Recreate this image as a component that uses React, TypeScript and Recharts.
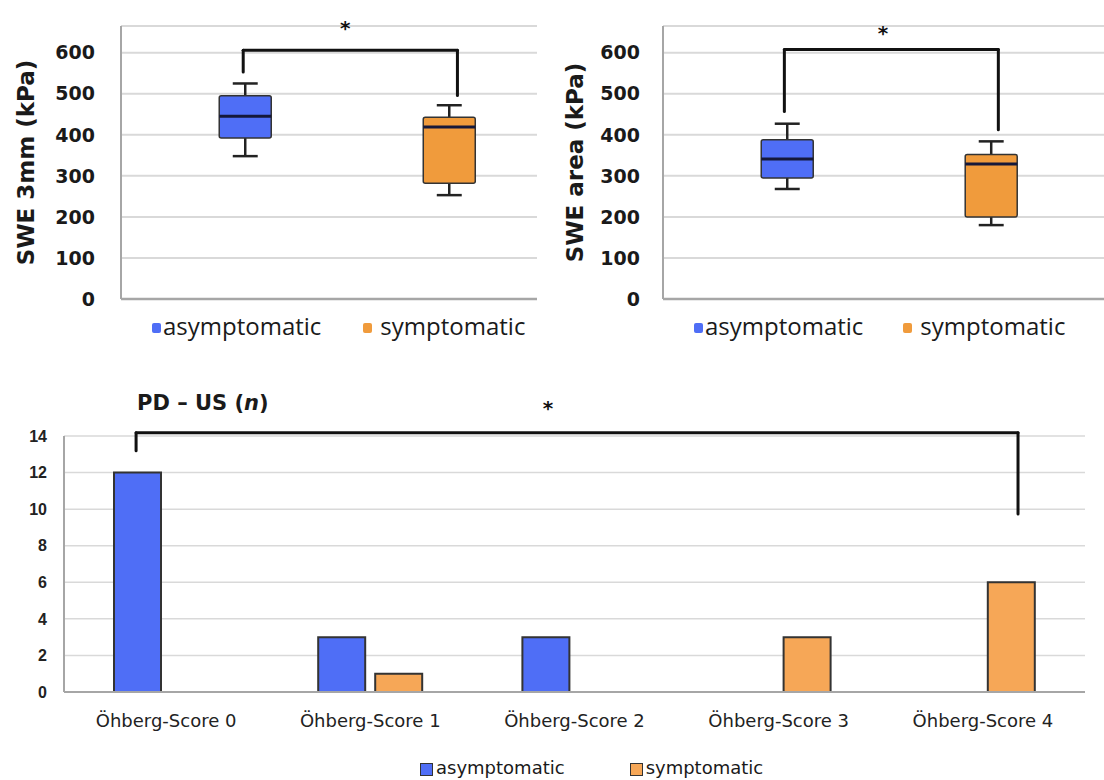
import React from 'react';
import {
  ComposedChart,
  BarChart,
  Bar,
  Cell,
  XAxis,
  YAxis,
  CartesianGrid,
  ReferenceLine,
  ReferenceDot,
} from 'recharts';

// groups of the two box plots
const GROUPS = ['asymptomatic', 'symptomatic'];
const GROUP_POS = [1, 2];
const SWE_TICKS = [0, 100, 200, 300, 400, 500, 600];

// SWE 3mm (kPa)
const SWE3_MIN = [348, 253];
const SWE3_Q1 = [392, 282];
const SWE3_MEDIAN = [445, 419];
const SWE3_Q3 = [495, 443];
const SWE3_MAX = [525, 472];

// SWE area (kPa)
const SWEA_MIN = [268, 180];
const SWEA_Q1 = [295, 200];
const SWEA_MEDIAN = [341, 329];
const SWEA_Q3 = [388, 352];
const SWEA_MAX = [427, 384];

// PD - US counts
const SCORE_LABELS = [
  'Öhberg-Score 0',
  'Öhberg-Score 1',
  'Öhberg-Score 2',
  'Öhberg-Score 3',
  'Öhberg-Score 4',
];
const PD_ASYMPTOMATIC = [12, 3, 3, 0, 0];
const PD_SYMPTOMATIC = [0, 1, 0, 3, 6];
const PD_TICKS = [0, 2, 4, 6, 8, 10, 12, 14];

// significance brackets (data units): x = [left, right], y = [left end, top, right end]
const SWE3_BRACKET_X = [0.99, 2.04];
const SWE3_BRACKET_Y = [553, 606, 496];
const SWE3_STAR = [1.49, 671];
const SWEA_BRACKET_X = [0.986, 2.035];
const SWEA_BRACKET_Y = [457, 608, 412];
const SWEA_STAR = [1.47, 658];
const PD_BRACKET_X = [0.353, 4.672];
const PD_BRACKET_Y = [13.2, 14.18, 9.73];
const PD_STAR = [2.37, 15.75];

const BLUE = '#4F6EF6';
const ORANGE = '#F09B3C';
const ORANGE_LIGHT = '#F6A757';
const GRID = '#d9d9d9';
const AXIS = '#a6a6a6';

const makeBoxData = (
  mins: number[],
  q1s: number[],
  meds: number[],
  q3s: number[],
  maxs: number[]
) =>
  GROUPS.map((g, i) => ({
    group: g,
    pos: GROUP_POS[i],
    min: mins[i],
    q1: q1s[i],
    median: meds[i],
    q3: q3s[i],
    max: maxs[i],
  }));

const swe3Data = makeBoxData(SWE3_MIN, SWE3_Q1, SWE3_MEDIAN, SWE3_Q3, SWE3_MAX);
const sweAreaData = makeBoxData(SWEA_MIN, SWEA_Q1, SWEA_MEDIAN, SWEA_Q3, SWEA_MAX);

// slot = band centre on the hidden 0..5 annotation axis
const pdData = SCORE_LABELS.map((s, i) => ({
  score: s,
  slot: i + 0.5,
  asymptomatic: PD_ASYMPTOMATIC[i],
  symptomatic: PD_SYMPTOMATIC[i],
}));

// the bar spans q1..q3, whiskers and median are placed with the same px/unit
const BoxShape = (props: any) => {
  const { x, y, width, height, payload, fill } = props;
  const top = Math.min(y, y + height);
  const h = Math.abs(height);
  const ppu = h / (payload.q3 - payload.q1);
  const cx = x + width / 2;
  const bottom = top + h;
  const yMed = top + (payload.q3 - payload.median) * ppu;
  const yMax = top - (payload.max - payload.q3) * ppu;
  const yMin = bottom + (payload.q1 - payload.min) * ppu;
  const cap = width * 0.24;
  return (
    <g>
      <line x1={cx} x2={cx} y1={yMax} y2={top} stroke="#222" strokeWidth={2.5} />
      <line x1={cx} x2={cx} y1={bottom} y2={yMin} stroke="#222" strokeWidth={2.5} />
      <line x1={cx - cap} x2={cx + cap} y1={yMax} y2={yMax} stroke="#222" strokeWidth={2.5} />
      <line x1={cx - cap} x2={cx + cap} y1={yMin} y2={yMin} stroke="#222" strokeWidth={2.5} />
      <rect x={x} y={top} width={width} height={h} fill={fill} stroke="#333" strokeWidth={1.5} rx={2} />
      <line x1={x} x2={x + width} y1={yMed} y2={yMed} stroke="#15183a" strokeWidth={3} />
    </g>
  );
};

const Star = (props: any) => (
  <text
    x={props.cx}
    y={props.cy}
    dy="0.55em"
    textAnchor="middle"
    fontSize={20}
    fontWeight="bold"
    fontFamily="DejaVu Sans"
    fill="#111"
  >
    *
  </text>
);

const bracketLines = (bx: number[], by: number[], xAxisId?: string) => {
  const segs = [
    [{ x: bx[0], y: by[0] }, { x: bx[0], y: by[1] }],
    [{ x: bx[0], y: by[1] }, { x: bx[1], y: by[1] }],
    [{ x: bx[1], y: by[1] }, { x: bx[1], y: by[2] }],
  ];
  return segs.map((seg, i) => (
    <ReferenceLine
      key={`br-${i}`}
      segment={seg}
      xAxisId={xAxisId}
      stroke="#111"
      strokeWidth={3}
      strokeLinecap="round"
      ifOverflow="visible"
    />
  ));
};

interface BoxPanelProps {
  data: any[];
  title: string;
  width: number;
  right: number;
  labelOffset: number;
  tickMargin: number;
  xDomain: number[];
  bracketX: number[];
  bracketY: number[];
  star: number[];
}

const BoxPanel = ({
  data,
  title,
  width,
  right,
  labelOffset,
  tickMargin,
  xDomain,
  bracketX,
  bracketY,
  star,
}: BoxPanelProps) => (
  <ComposedChart
    width={width}
    height={310}
    data={data}
    margin={{ top: 26, right, bottom: 11, left: 0 }}
  >
    <CartesianGrid vertical={false} stroke={GRID} strokeWidth={2} />
    <XAxis dataKey="pos" type="number" domain={xDomain} allowDataOverflow hide />
    <YAxis
      width={121}
      domain={[0, 665]}
      ticks={SWE_TICKS}
      interval={0}
      axisLine={{ stroke: AXIS, strokeWidth: 2 }}
      tickLine={false}
      tickMargin={tickMargin}
      tick={{ fontSize: 19, fontWeight: 'bold', fontFamily: 'DejaVu Sans', fill: '#1a1a1a' }}
      label={{
        value: title,
        angle: -90,
        position: 'insideLeft',
        offset: labelOffset,
        style: {
          textAnchor: 'middle',
          fontSize: 23,
          fontWeight: 'bold',
          fontFamily: 'DejaVu Sans',
          fill: '#1a1a1a',
        },
      }}
    />
    <ReferenceLine y={0} stroke={AXIS} strokeWidth={2.5} />
    <Bar
      dataKey={(d: any) => [d.q1, d.q3]}
      barSize={52}
      shape={BoxShape}
      isAnimationActive={false}
    >
      {data.map((d, i) => (
        <Cell key={`c-${i}`} fill={i === 0 ? BLUE : ORANGE} />
      ))}
    </Bar>
    {bracketLines(bracketX, bracketY)}
    <ReferenceDot x={star[0]} y={star[1]} r={0} ifOverflow="visible" shape={Star} />
  </ComposedChart>
);

const TopLegend = ({ left, gap }: { left: number; gap: number }) => (
  <div
    style={{
      position: 'absolute',
      left,
      top: 314,
      display: 'flex',
      fontFamily: 'Open Sans',
      fontSize: 24,
      lineHeight: '24px',
      color: '#1a1a1a',
      whiteSpace: 'nowrap',
    }}
  >
    {GROUPS.map((g, i) => (
      <div key={g} style={{ display: 'flex', alignItems: 'center', marginRight: i === 0 ? gap : 0 }}>
        <span
          style={{
            display: 'inline-block',
            width: 9,
            height: 10,
            marginTop: 4,
            marginRight: i === 0 ? 2 : 8,
            background: i === 0 ? BLUE : ORANGE,
            borderRadius: 2,
          }}
        />
        <span>{g}</span>
      </div>
    ))}
  </div>
);

export default function App() {
  return (
    <div style={{ position: 'relative', width: 1104, height: 780, background: '#fff', overflow: 'hidden' }}>
      <style>{'body{margin:0}'}</style>

      {/* top left: SWE 3mm */}
      <div style={{ position: 'absolute', left: 0, top: 0 }}>
        <BoxPanel
          data={swe3Data}
          title="SWE 3mm (kPa)"
          width={545}
          right={8}
          labelOffset={26}
          tickMargin={20}
          xDomain={[0.391, 2.43]}
          bracketX={SWE3_BRACKET_X}
          bracketY={SWE3_BRACKET_Y}
          star={SWE3_STAR}
        />
      </div>
      <TopLegend left={152} gap={42} />

      {/* top right: SWE area */}
      <div style={{ position: 'absolute', left: 542, top: 0 }}>
        <BoxPanel
          data={sweAreaData}
          title="SWE area (kPa)"
          width={562}
          right={0}
          labelOffset={33}
          tickMargin={17}
          xDomain={[0.391, 2.553]}
          bracketX={SWEA_BRACKET_X}
          bracketY={SWEA_BRACKET_Y}
          star={SWEA_STAR}
        />
      </div>
      <TopLegend left={694} gap={40} />

      {/* bottom: PD - US */}
      <div
        style={{
          position: 'absolute',
          left: 137,
          top: 393,
          fontFamily: 'DejaVu Sans',
          fontWeight: 'bold',
          fontSize: 21,
          lineHeight: '21px',
          color: '#1a1a1a',
          whiteSpace: 'nowrap',
        }}
      >
        PD – US (<i>n</i>)
      </div>
      <div style={{ position: 'absolute', left: 0, top: 380 }}>
        <BarChart
          width={1104}
          height={400}
          data={pdData}
          margin={{ top: 56, right: 19, bottom: 48, left: 0 }}
          barGap={10}
        >
          <CartesianGrid vertical={false} stroke={GRID} strokeWidth={1.5} />
          <XAxis
            dataKey="score"
            height={40}
            axisLine={{ stroke: AXIS, strokeWidth: 2 }}
            tickLine={false}
            tickMargin={16}
            interval={0}
            tick={{ fontSize: 18, fontFamily: 'DejaVu Sans', fill: '#222' }}
          />
          <XAxis
            xAxisId="ann"
            dataKey="slot"
            type="number"
            domain={[0, 5]}
            allowDataOverflow
            hide
          />
          <YAxis
            width={64}
            domain={[0, 14]}
            ticks={PD_TICKS}
            interval={0}
            axisLine={{ stroke: AXIS, strokeWidth: 2 }}
            tickLine={false}
            tickMargin={11}
            tick={{ fontSize: 16, fontWeight: 'bold', fontFamily: 'Liberation Sans', fill: '#222' }}
          />
          <Bar
            dataKey="asymptomatic"
            barSize={47}
            fill={BLUE}
            stroke="#333"
            strokeWidth={2}
            isAnimationActive={false}
          />
          <Bar
            dataKey="symptomatic"
            barSize={47}
            fill={ORANGE_LIGHT}
            stroke="#333"
            strokeWidth={2}
            isAnimationActive={false}
          />
          {bracketLines(PD_BRACKET_X, PD_BRACKET_Y, 'ann')}
          <ReferenceDot
            xAxisId="ann"
            x={PD_STAR[0]}
            y={PD_STAR[1]}
            r={0}
            ifOverflow="visible"
            shape={Star}
          />
        </BarChart>
      </div>

      {/* bottom legend */}
      <div
        style={{
          position: 'absolute',
          left: 420,
          top: 759,
          display: 'flex',
          fontFamily: 'DejaVu Sans',
          fontSize: 18,
          lineHeight: '18px',
          color: '#1a1a1a',
          whiteSpace: 'nowrap',
        }}
      >
        {GROUPS.map((g, i) => (
          <div key={g} style={{ display: 'flex', alignItems: 'flex-start', marginRight: i === 0 ? 65 : 0 }}>
            <span
              style={{
                display: 'inline-block',
                width: 11,
                height: 11,
                marginTop: 4,
                marginRight: 3,
                background: i === 0 ? BLUE : ORANGE_LIGHT,
                border: '1px solid #333',
              }}
            />
            <span>{g}</span>
          </div>
        ))}
      </div>
    </div>
  );
}
